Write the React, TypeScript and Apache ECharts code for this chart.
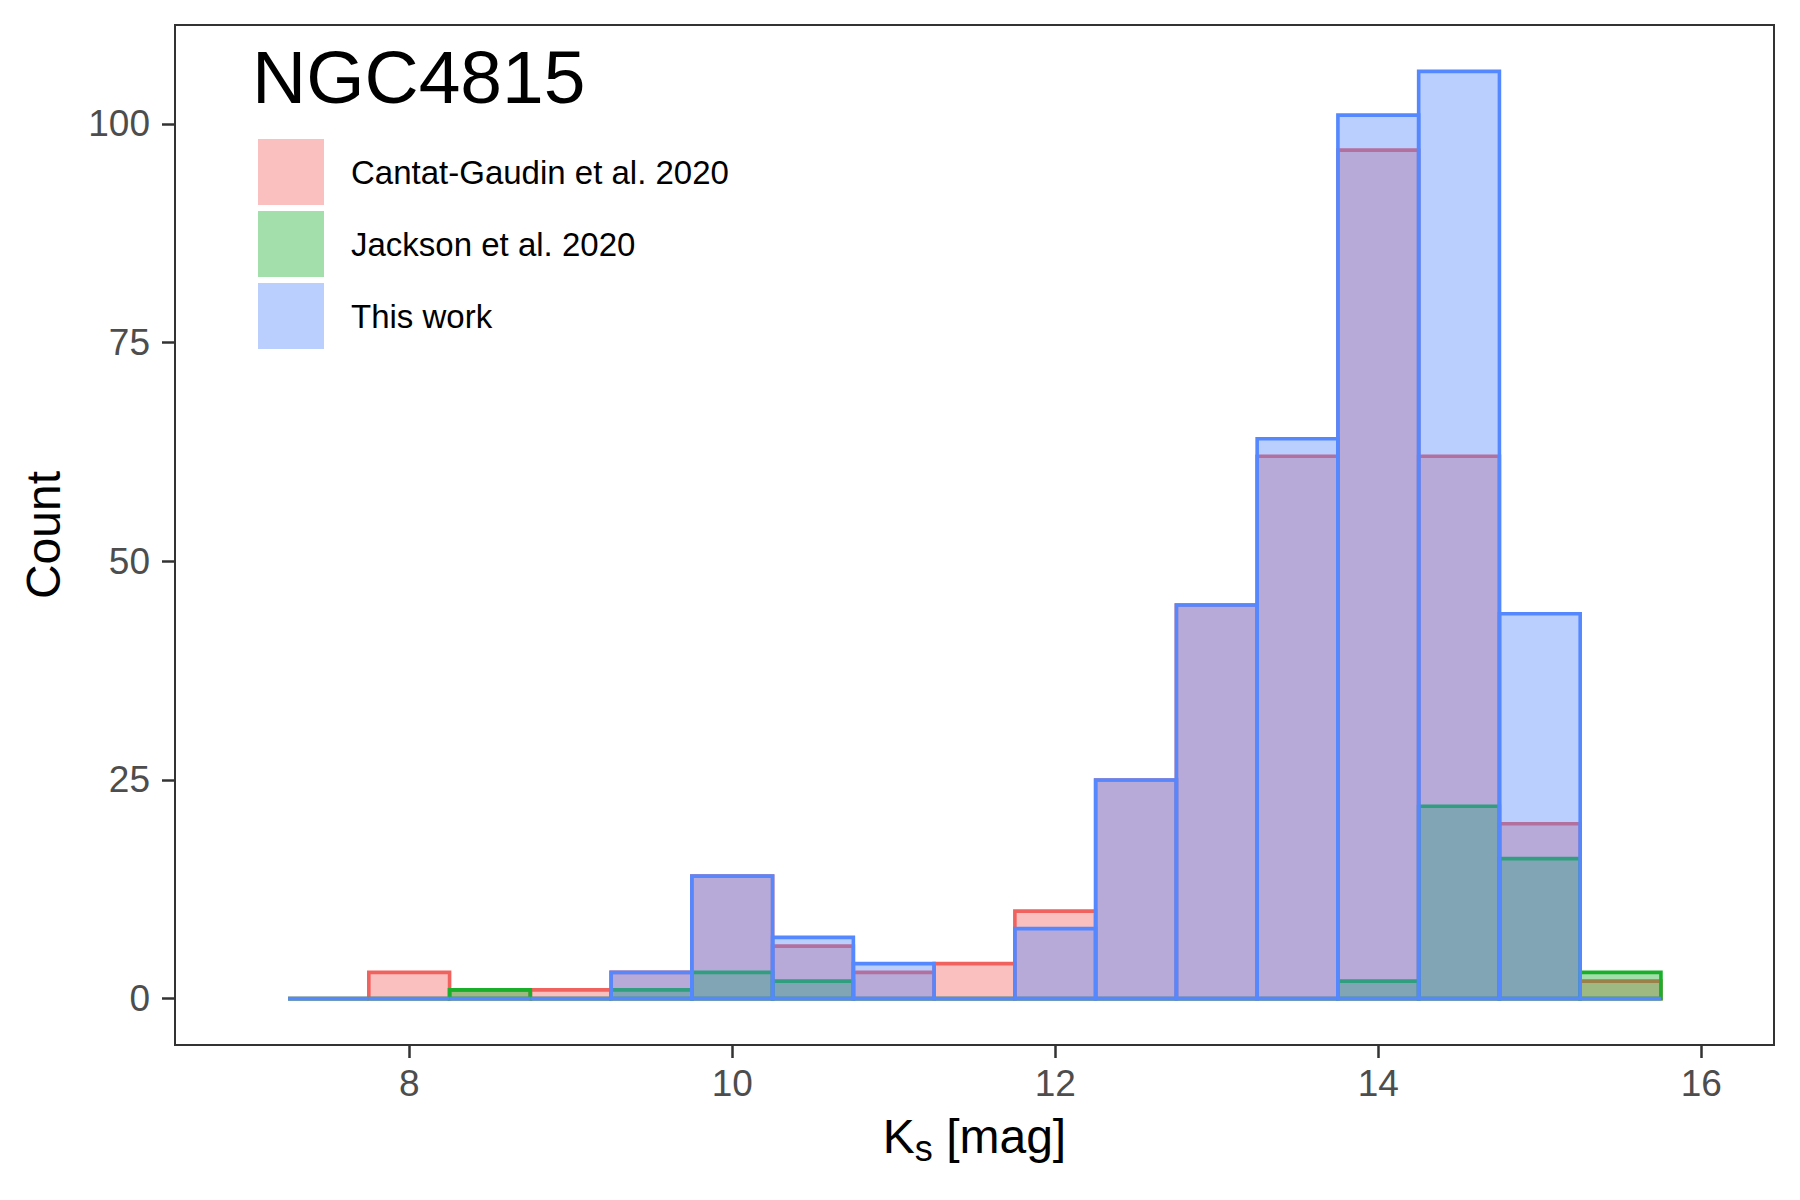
import React, { useEffect, useRef } from "react";
import * as echarts from "echarts";

// ---- data ----
const binEdges = [7.25, 7.75, 8.25, 8.75, 9.25, 9.75, 10.25, 10.75, 11.25, 11.75, 12.25, 12.75, 13.25, 13.75, 14.25, 14.75, 15.25, 15.75];
const cantatCounts = [0, 3, 1, 1, 3, 14, 6, 3, 4, 10, 25, 45, 62, 97, 62, 20, 2];
const jacksonCounts = [0, 0, 1, 0, 1, 3, 2, 0, 0, 0, 0, 0, 0, 2, 22, 16, 3];
const thisWorkCounts = [0, 0, 0, 0, 3, 14, 7, 4, 0, 8, 25, 45, 64, 101, 106, 44, 0];
const seriesNames = ["Cantat-Gaudin et al. 2020", "Jackson et al. 2020", "This work"];
const xTicks = [8, 10, 12, 14, 16];
const yTicks = [0, 25, 50, 75, 100];
const plotTitle = "NGC4815";

const strokeColors = ["#F0625E", "#1AAF2A", "#5588FF"];
const fillColors = ["rgba(240,98,94,0.4)", "rgba(26,175,42,0.4)", "rgba(85,136,255,0.4)"];

const FONT = "'Liberation Sans', Arial, Helvetica, sans-serif";

function makeSeries(name: string, counts: number[], idx: number) {
  const data = counts.map((c, i) => [binEdges[i], binEdges[i + 1], c]);
  return {
    type: "custom",
    name,
    data,
    encode: { x: [0, 1], y: 2 },
    itemStyle: { color: fillColors[idx] },
    z: 2 + idx,
    renderItem: (_params: any, api: any) => {
      const x0 = api.value(0);
      const x1 = api.value(1);
      const c = api.value(2);
      const p0 = api.coord([x0, 0]);
      const p1 = api.coord([x1, c]);
      return {
        type: "polygon",
        shape: {
          points: [
            [p0[0], p0[1]],
            [p1[0], p0[1]],
            [p1[0], p1[1]],
            [p0[0], p1[1]],
          ],
        },
        style: {
          fill: fillColors[idx],
          stroke: strokeColors[idx],
          lineWidth: 3.6,
          lineJoin: "miter",
        },
      };
    },
  };
}

export default function App() {
  const ref = useRef<HTMLDivElement>(null);
  useEffect(() => {
    if (!ref.current) return;
    const chart = echarts.init(ref.current, null, { renderer: "svg" });
    chart.setOption({
      animation: false,
      backgroundColor: "#ffffff",
      textStyle: { fontFamily: FONT },
      grid: {
        left: 175,
        right: 26,
        top: 25,
        bottom: 155,
        show: true,
        borderColor: "#333333",
        borderWidth: 2,
        backgroundColor: "#ffffff",
      },
      legend: {
        orient: "vertical",
        left: 258,
        top: 139,
        padding: 0,
        itemWidth: 66,
        itemHeight: 66,
        itemGap: 6,
        selectedMode: false,
        textStyle: { fontSize: 33, color: "#000000", fontFamily: FONT, padding: [0, 0, 0, 22] },
        data: seriesNames.map((n, i) => ({
          name: n,
          icon: "rect",
          itemStyle: { color: fillColors[i], borderWidth: 0 },
        })),
      },
      graphic: [
        {
          type: "text",
          x: 252,
          y: 77,
          style: {
            text: plotTitle,
            fill: "#000000",
            fontSize: 75,
            fontFamily: FONT,
            align: "left",
            verticalAlign: "middle",
          },
        },
      ],
      xAxis: {
        type: "value",
        min: 6.55,
        max: 16.45,
        name: "{k|K}{s|s}{k| [mag]}",
        nameLocation: "middle",
        nameGap: 66,
        nameTextStyle: {
          rich: {
            k: { fontSize: 48, color: "#000000", fontFamily: FONT, lineHeight: 48 },
            s: { fontSize: 36, color: "#000000", fontFamily: FONT, lineHeight: 24, padding: [24, 0, 0, 0] },
          },
        },
        axisLine: { show: true, onZero: false, lineStyle: { color: "#333333", width: 2 } },
        axisTick: { show: true, length: 13, customValues: xTicks, lineStyle: { color: "#333333", width: 2.5 } },
        axisLabel: { show: true, customValues: xTicks, fontSize: 37, color: "#4D4D4D", margin: 20, fontFamily: FONT },
        splitLine: { show: false },
      },
      yAxis: {
        type: "value",
        min: -5.3,
        max: 111.3,
        name: "Count",
        nameLocation: "middle",
        nameGap: 108,
        nameTextStyle: { fontSize: 48, color: "#000000", fontFamily: FONT },
        axisLine: { show: true, lineStyle: { color: "#333333", width: 2 } },
        axisTick: { show: true, length: 13, customValues: yTicks, lineStyle: { color: "#333333", width: 2.5 } },
        axisLabel: { show: true, customValues: yTicks, fontSize: 37, color: "#4D4D4D", margin: 25, fontFamily: FONT },
        splitLine: { show: false },
      },
      series: [
        makeSeries(seriesNames[0], cantatCounts, 0),
        makeSeries(seriesNames[1], jacksonCounts, 1),
        makeSeries(seriesNames[2], thisWorkCounts, 2),
      ],
    });
    return () => chart.dispose();
  }, []);
  return (
    <div
      ref={ref}
      style={{ position: "fixed", left: 0, top: 0, width: 1800, height: 1200, background: "#fff" }}
    />
  );
}
